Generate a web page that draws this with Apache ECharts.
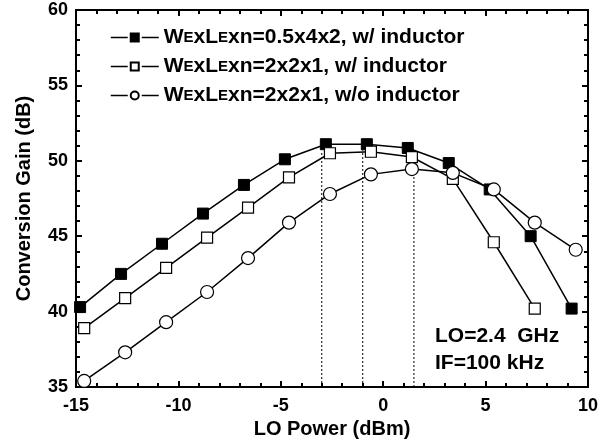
<!DOCTYPE html>
<html>
<head>
<meta charset="utf-8">
<script src="https://cdn.jsdelivr.net/npm/echarts@6/dist/echarts.min.js"></script>
<style>
  html, body { margin: 0; padding: 0; background: #fff; }
  #chart { width: 612px; height: 447px; }
</style>
</head>
<body>
<div id="chart"></div>
<script>
// series 1: WexLexn=0.5x4x2, w/ inductor (filled squares)
const xFilled = [-14.8, -12.8, -10.8, -8.8, -6.8, -4.8, -2.8, -0.8, 1.2, 3.2, 5.2, 7.2, 9.2]
const yFilled = [40.3, 42.5, 44.5, 46.5, 48.4, 50.1, 51.1, 51.1, 50.85, 49.85, 48.1, 45.0, 40.2]
// series 2: WexLexn=2x2x1, w/ inductor (open squares)
const xOpenSq = [-14.6, -12.6, -10.6, -8.6, -6.6, -4.6, -2.6, -0.6, 1.4, 3.4, 5.4, 7.4]
const yOpenSq = [38.9, 40.9, 42.9, 44.9, 46.9, 48.9, 50.5, 50.6, 50.25, 48.8, 44.6, 40.2]
// series 3: WexLexn=2x2x1, w/o inductor (open circles)
const xCircle = [-14.6, -12.6, -10.6, -8.6, -6.6, -4.6, -2.6, -0.6, 1.4, 3.4, 5.4, 7.4, 9.4]
const yCircle = [35.4, 37.3, 39.3, 41.3, 43.55, 45.9, 47.8, 49.1, 49.45, 49.2, 48.1, 45.9, 44.1]
// dotted peak markers
const peakX = [-3, -1, 1.5]
const peakTop = [50.6, 50.7, 49.4]

const names = [
  'WexLexn=0.5x4x2, w/ inductor',
  'WexLexn=2x2x1, w/ inductor',
  'WexLexn=2x2x1, w/o inductor'
]
const legendTail = ['=0.5x4x2, w/ inductor', '=2x2x1, w/ inductor', '=2x2x1, w/o inductor']

const FONT = 'Liberation Sans, Arial, sans-serif'
const pair = (xs, ys) => xs.map((x, i) => [x, ys[i]])

const chart = echarts.init(document.getElementById('chart'))

const baseLine = {
  type: 'line',
  lineStyle: { color: '#000', width: 1.5 },
  animation: false,
  z: 3
}

const peakSeries = peakX.map((x, i) => ({
  type: 'line',
  data: [[x, 35], [x, peakTop[i]]],
  symbol: 'none',
  silent: true,
  lineStyle: { color: '#000', width: 1, type: [2, 2] },
  animation: false,
  z: 1
}))

const tickAxis = {
  axisLine: { onZero: false, lineStyle: { color: '#000', width: 2 } },
  axisTick: { inside: true, length: 6, lineStyle: { color: '#000', width: 2 } },
  minorTick: { show: true, splitNumber: 5, length: 4, lineStyle: { color: '#000', width: 2 } },
  splitLine: { show: false }
}

chart.setOption({
  backgroundColor: '#fff',
  grid: {
    left: 76, right: 24, top: 10, bottom: 60,
    show: true, borderColor: '#000', borderWidth: 2
  },
  legend: {
    data: names,
    orient: 'vertical',
    left: 105, top: 22,
    itemWidth: 48, itemHeight: 10, itemGap: 8,
    lineStyle: { type: [17, 14, 17], width: 1.5 },
    formatter: name => {
      const i = names.indexOf(name)
      return '{b|W}{s|E}{b|xL}{s|E}{b|xn' + legendTail[i] + '}'
    },
    textStyle: {
      color: '#000',
      rich: {
        b: { fontFamily: FONT, fontWeight: 'bold', fontSize: 21, color: '#000', lineHeight: 21, verticalAlign: 'bottom' },
        s: { fontFamily: FONT, fontWeight: 'bold', fontSize: 15, color: '#000', lineHeight: 15, verticalAlign: 'bottom', padding: [0, 0, 3, 0] }
      }
    }
  },
  xAxis: [Object.assign({
    type: 'value', min: -15, max: 10, interval: 5,
    name: 'LO Power (dBm)', nameLocation: 'middle', nameGap: 32,
    nameTextStyle: { fontFamily: FONT, fontWeight: 'bold', fontSize: 20, color: '#000' },
    axisLabel: { fontFamily: FONT, fontWeight: 'bold', fontSize: 18, color: '#000', margin: 10 }
  }, tickAxis), Object.assign({
    type: 'value', min: -15, max: 10, interval: 5, position: 'top',
    axisLabel: { show: false }
  }, tickAxis)],
  yAxis: [Object.assign({
    type: 'value', min: 35, max: 60, interval: 5,
    name: 'Conversion Gain (dB)', nameLocation: 'middle', nameGap: 42,
    nameTextStyle: { fontFamily: FONT, fontWeight: 'bold', fontSize: 20, color: '#000' },
    axisLabel: { fontFamily: FONT, fontWeight: 'bold', fontSize: 18, color: '#000', margin: 8 }
  }, tickAxis), Object.assign({
    type: 'value', min: 35, max: 60, interval: 5, position: 'right',
    axisLabel: { show: false }
  }, tickAxis)],
  graphic: [
    { type: 'text', left: 435, top: 326, style: { text: 'LO=2.4  GHz', font: 'bold 21px ' + FONT, fill: '#000' } },
    { type: 'text', left: 435, top: 353, style: { text: 'IF=100 kHz', font: 'bold 21px ' + FONT, fill: '#000' } }
  ],
  series: [
    ...peakSeries,
    Object.assign({}, baseLine, {
      name: names[0], data: pair(xFilled, yFilled),
      symbol: 'rect', symbolSize: 11,
      itemStyle: { color: '#000', borderColor: '#000', borderWidth: 1 }
    }),
    Object.assign({}, baseLine, {
      name: names[1], data: pair(xOpenSq, yOpenSq),
      symbol: 'rect', symbolSize: 11,
      itemStyle: { color: '#fff', borderColor: '#000', borderWidth: 1.2 }
    }),
    Object.assign({}, baseLine, {
      name: names[2], data: pair(xCircle, yCircle),
      symbol: 'circle', symbolSize: 13,
      itemStyle: { color: '#fff', borderColor: '#000', borderWidth: 1.2 }
    })
  ]
})
</script>
</body>
</html>
